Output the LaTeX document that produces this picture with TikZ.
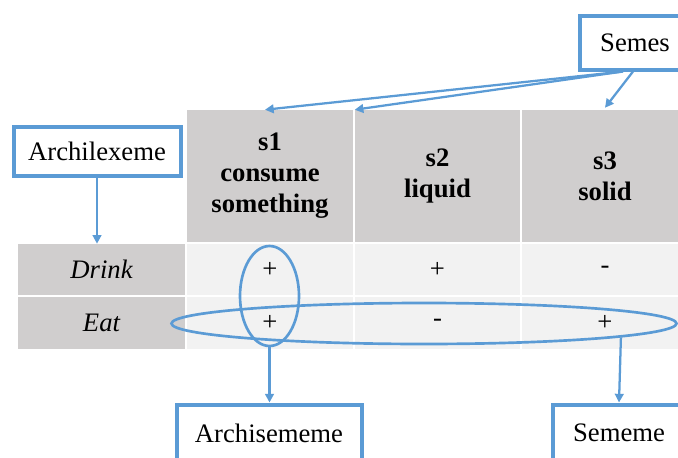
\documentclass[tikz,border=0pt]{standalone}
\usepackage{fontspec}
\setmainfont{Liberation Serif}
\usetikzlibrary{shapes.geometric,arrows.meta}
\definecolor{linkblue}{RGB}{91,155,213}
\definecolor{headgray}{RGB}{208,206,206}
\definecolor{cellgray}{RGB}{242,242,242}

\begin{document}
\fontsize{20}{23.25}\selectfont
\begin{tikzpicture}[x=0.75pt,y=-0.75pt,
  hcell/.style={fill=headgray,inner sep=0pt,font=\bfseries,align=center,
    minimum height=99pt},
  lcell/.style={fill=headgray,inner sep=0pt,font=\itshape,minimum width=125.25pt},
  dcell/.style={fill=cellgray,inner sep=0pt},
  labelbox/.style={draw=linkblue,line width=3pt,fill=white,inner sep=0pt},
  ring/.style={draw=linkblue,line width=2pt,ellipse,inner sep=0pt},
  arr/.style={draw=linkblue,line width=1.7pt,-{Triangle[length=6.5pt,width=6.5pt]}}
]
\useasboundingbox (0,0) rectangle (678,457);
\clip (0,0) rectangle (678,457);

% header row
\node[hcell,minimum width=124.5pt]  (h1) at (270,176)   {s1\\consume\\something};
\node[hcell,minimum width=123.75pt] (h2) at (437.5,176) {s2\\liquid};
\node[hcell,minimum width=124.5pt]  (h3) at (605,176)   {s3\\solid};

% row labels
\node[lcell,minimum height=38.25pt] (r1) at (101.5,269.5) {Drink};
\node[lcell,minimum height=39pt]    (r2) at (101.5,323)   {Eat};

% feature values
\node[dcell,minimum width=124.5pt, minimum height=38.25pt] (d11) at (270,269.5)   {+};
\node[dcell,minimum width=123.75pt,minimum height=38.25pt] (d12) at (437.5,269.5) {+};
\node[dcell,minimum width=124.5pt, minimum height=38.25pt] (d13) at (605,269.5)   {-};
\node[dcell,minimum width=124.5pt, minimum height=39pt]    (d21) at (270,323)     {+};
\node[dcell,minimum width=123.75pt,minimum height=39pt]    (d22) at (437.5,323)   {-};
\node[dcell,minimum width=124.5pt, minimum height=39pt]    (d23) at (605,323)     {+};

% groupings
\node[ring,minimum width=44.25pt,minimum height=75pt]     (vring) at (269.5,296) {};
\node[ring,minimum width=378.75pt,minimum height=30.75pt] (hring) at (424,323.5) {};

% labels
\node[labelbox,minimum width=83.25pt, minimum height=40.5pt]  (semes) at (635,42.5) {Semes};
\node[labelbox,minimum width=125.25pt,minimum height=36.75pt] (lex)   at (97,151)   {Archilexeme};
\node[labelbox,minimum width=138.75pt,minimum height=42.75pt] (asm)   at (269,433)  {Archisememe};
\node[labelbox,minimum width=99pt,    minimum height=42.75pt] (sem)   at (619,433)  {Sememe};

% connectors
\draw[arr] ([xshift=-9pt]semes.south) -- ([xshift=-3.75pt]h1.north);
\draw[arr] ([xshift=-9pt]semes.south) -- (h2.north west);
\draw[arr] ([xshift=-1.5pt]semes.south) -- ([yshift=1.5pt]h3.north);
\draw[arr] (lex.south) -- (lex.south |- r1.north);
\draw[arr] (vring.south) -- (vring.south |- asm.north);
\draw[arr] (hring.-4.3) -- (sem.north);
\end{tikzpicture}
\end{document}
